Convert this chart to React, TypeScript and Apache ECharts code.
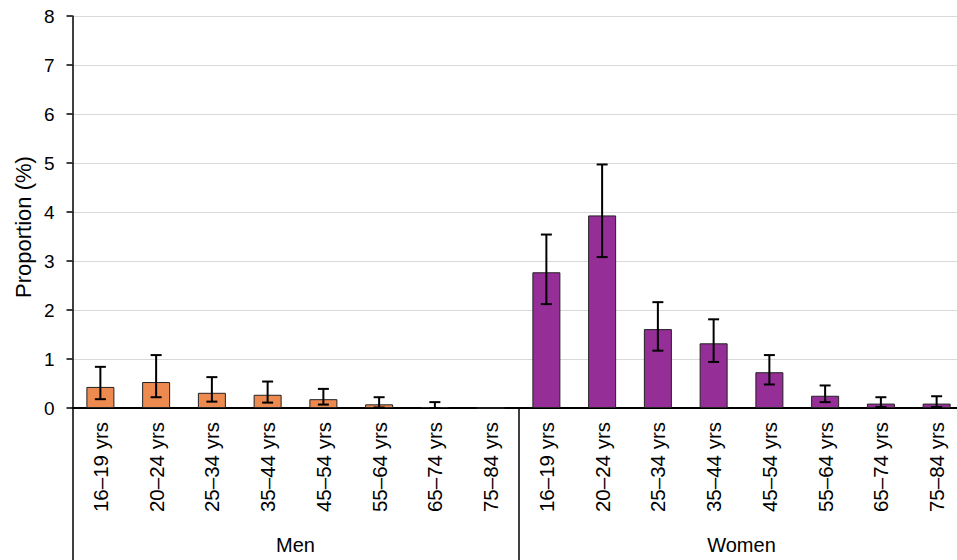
import React, { useEffect, useRef } from "react";
import * as echarts from "echarts";

const ageLabels = ["16–19 yrs", "20–24 yrs", "25–34 yrs", "35–44 yrs", "45–54 yrs", "55–64 yrs", "65–74 yrs", "75–84 yrs"];
const groups = ["Men", "Women"];
const yTicks = [0, 1, 2, 3, 4, 5, 6, 7, 8];

const menValues = [0.43, 0.53, 0.31, 0.27, 0.18, 0.075, 0.02, 0];
const menLow: (number | null)[] = [0.18, 0.22, 0.13, 0.11, 0.07, 0.01, 0.0, null];
const menHigh: (number | null)[] = [0.84, 1.08, 0.63, 0.54, 0.39, 0.22, 0.12, null];

const womenValues = [2.77, 3.93, 1.61, 1.32, 0.73, 0.25, 0.09, 0.09];
const womenLow = [2.12, 3.08, 1.17, 0.94, 0.48, 0.12, 0.02, 0.02];
const womenHigh = [3.54, 4.97, 2.16, 1.81, 1.08, 0.46, 0.22, 0.24];

const MEN_COLOR = "#ED8A4F";
const WOMEN_COLOR = "#952E97";
const FONT = "'Liberation Sans', Arial, sans-serif";

export default function App() {
  const ref = useRef<HTMLDivElement>(null);

  useEffect(() => {
    if (!ref.current) return;
    const chart = echarts.init(ref.current, undefined, { renderer: "svg" });

    const categories = [...ageLabels, ...ageLabels];
    const barData = [
      ...menValues.map((v) => ({ value: v, itemStyle: { color: MEN_COLOR } })),
      ...womenValues.map((v) => ({ value: v, itemStyle: { color: WOMEN_COLOR } })),
    ];
    const errData: any[] = [];
    menLow.forEach((lo, i) => {
      if (lo != null && menHigh[i] != null) errData.push([i, lo, menHigh[i]]);
    });
    womenLow.forEach((lo, i) => {
      errData.push([i + ageLabels.length, lo, womenHigh[i]]);
    });

    chart.setOption({
      animation: false,
      textStyle: { fontFamily: FONT },
      grid: { left: 72.5, top: 16, width: 892, height: 392, containLabel: false },
      xAxis: [
        {
          type: "category",
          data: categories,
          gridIndex: 0,
          position: "bottom",
          axisLine: { show: true, lineStyle: { color: "#000", width: 2 } },
          axisTick: { show: false },
          axisLabel: {
            rotate: 90,
            interval: 0,
            fontSize: 20.5,
            margin: 14,
            color: "#000",
            fontFamily: FONT,
          },
          splitLine: { show: false },
        },
        {
          type: "category",
          data: groups,
          gridIndex: 0,
          position: "bottom",
          axisLine: { show: false },
          axisTick: {
            show: true,
            length: 152,
            interval: 0,
            lineStyle: { color: "#000", width: 1.5 },
          },
          axisLabel: {
            interval: 0,
            fontSize: 20,
            margin: 127,
            color: "#000",
            fontFamily: FONT,
          },
          splitLine: { show: false },
        },
      ],
      yAxis: {
        type: "value",
        min: 0,
        max: 8,
        interval: 1,
        axisLine: { show: true, lineStyle: { color: "#000", width: 1.5 } },
        axisTick: { show: true, length: 6, lineStyle: { color: "#000", width: 1.5 } },
        axisLabel: {
          fontSize: 19,
          margin: 18,
          color: "#000",
          fontFamily: FONT,
          formatter: (v: number) => (yTicks.includes(v) ? String(v) : ""),
        },
        splitLine: { show: true, lineStyle: { color: "#d9d9d9", width: 1 } },
      },
      graphic: [
        {
          type: "text",
          x: 23,
          y: 227,
          rotation: Math.PI / 2,
          style: {
            text: "Proportion (%)",
            fontSize: 22,
            fontFamily: FONT,
            fill: "#000",
            align: "center",
            verticalAlign: "middle",
          },
        },
      ],
      series: [
        {
          type: "bar",
          xAxisIndex: 0,
          yAxisIndex: 0,
          barWidth: 28,
          data: barData,
          itemStyle: { borderColor: "#222", borderWidth: 1 },
          z: 2,
        },
        {
          type: "custom",
          xAxisIndex: 0,
          yAxisIndex: 0,
          z: 3,
          encode: { x: 0, y: [1, 2] },
          data: errData,
          renderItem: (params: any, api: any) => {
            const idx = api.value(0);
            const lo = api.coord([idx, api.value(1)]);
            const hi = api.coord([idx, api.value(2)]);
            const hw = 5.5;
            const style = { stroke: "#000", lineWidth: 2 };
            return {
              type: "group",
              children: [
                { type: "line", shape: { x1: lo[0], y1: lo[1], x2: hi[0], y2: hi[1] }, style },
                { type: "line", shape: { x1: hi[0] - hw, y1: hi[1], x2: hi[0] + hw, y2: hi[1] }, style },
                { type: "line", shape: { x1: lo[0] - hw, y1: lo[1], x2: lo[0] + hw, y2: lo[1] }, style },
              ],
            };
          },
        },
      ],
    });

    return () => chart.dispose();
  }, []);

  return (
    <div
      style={{
        position: "fixed",
        left: 0,
        top: 0,
        width: 957,
        height: 560,
        overflow: "hidden",
        background: "#fff",
      }}
    >
      <div ref={ref} style={{ width: 966, height: 560 }} />
    </div>
  );
}
